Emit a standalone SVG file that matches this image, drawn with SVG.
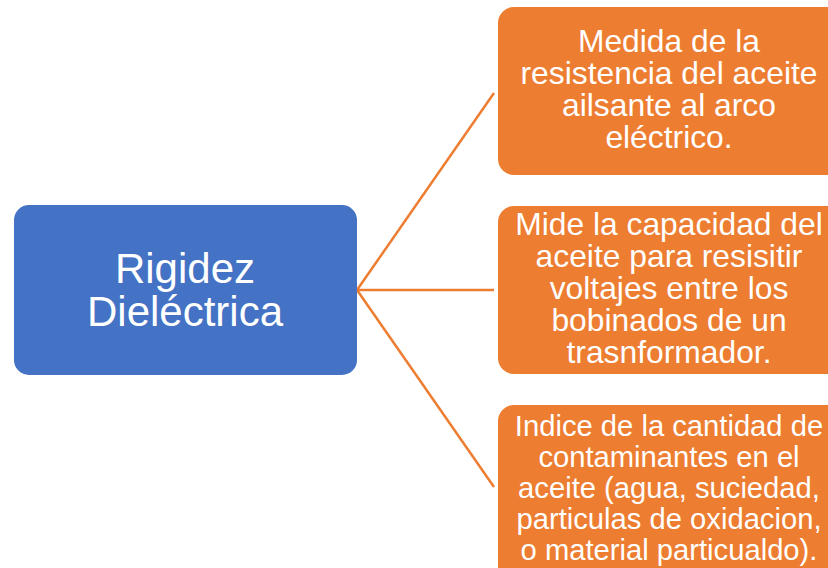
<svg xmlns="http://www.w3.org/2000/svg" width="828" height="568" viewBox="0 0 828 568">
<style>
.blue{fill:#4472C4;}
.orange{fill:#ED7D31;}
.t{font-family:"Liberation Sans",Arial,sans-serif;fill:#fff;text-anchor:middle;}
.big{font-size:42px;}
.sm{font-size:31.8px;}
.sm2{font-size:29.2px;}
.c{stroke:#ED7D31;stroke-width:2.5;fill:none;}
</style>
<rect width="828" height="568" fill="#fff"/>
<g id="connectors">
<line class="c" x1="357" y1="290" x2="494" y2="93"/>
<line class="c" x1="357" y1="290" x2="494" y2="290"/>
<line class="c" x1="357" y1="290" x2="494" y2="487"/>
</g>
<g id="root">
<rect class="blue" x="14" y="205" width="343" height="170" rx="15"/>
<text class="t big" x="185" y="283">Rigidez</text>
<text class="t big" x="185" y="326">Dieléctrica</text>
</g>
<g id="n1">
<rect class="orange" x="498" y="7" width="346" height="168" rx="16"/>
<text class="t sm" x="669" y="52">Medida de la</text>
<text class="t sm" x="669" y="84">resistencia del aceite</text>
<text class="t sm" x="669" y="116">ailsante al arco</text>
<text class="t sm" x="669" y="148">eléctrico.</text>
</g>
<g id="n2">
<rect class="orange" x="498" y="206" width="346" height="168" rx="16"/>
<text class="t sm" x="669" y="235">Mide la capacidad del</text>
<text class="t sm" x="669" y="267">aceite para resisitir</text>
<text class="t sm" x="669" y="299">voltajes entre los</text>
<text class="t sm" x="669" y="331">bobinados de un</text>
<text class="t sm" x="669" y="363">trasnformador.</text>
</g>
<g id="n3">
<rect class="orange" x="498" y="405" width="346" height="180" rx="16"/>
<text class="t sm2" x="669" y="436">Indice de la cantidad de</text>
<text class="t sm2" x="669" y="467">contaminantes en el</text>
<text class="t sm2" x="669" y="498">aceite (agua, suciedad,</text>
<text class="t sm2" x="669" y="529">particulas de oxidacion,</text>
<text class="t sm2" x="669" y="560">o material particualdo).</text>
</g>
</svg>
